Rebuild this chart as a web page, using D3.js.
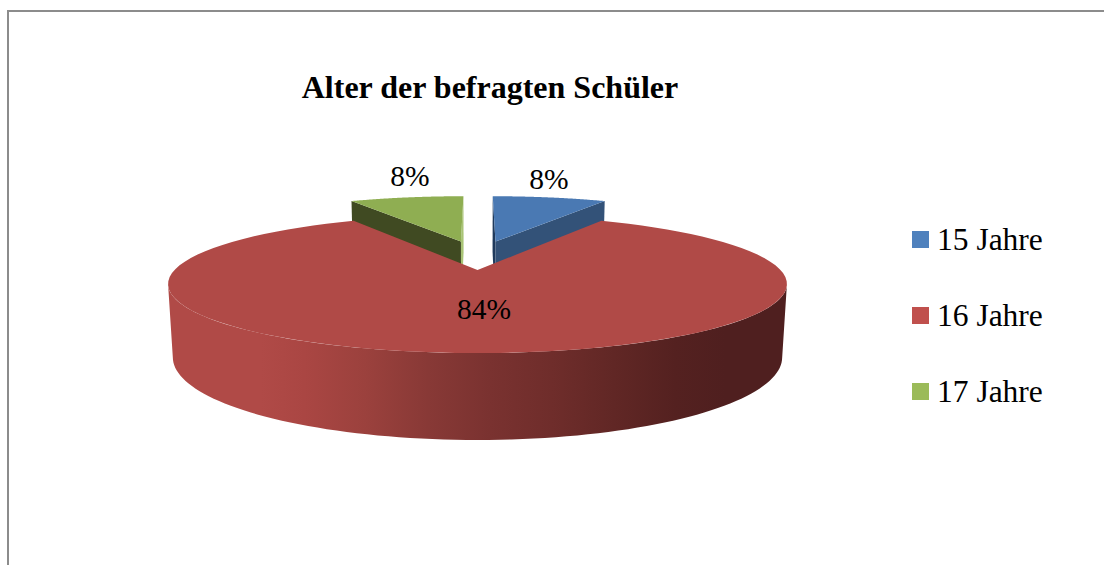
<!DOCTYPE html>
<html>
<head>
<meta charset="utf-8">
<script src="https://cdn.jsdelivr.net/npm/d3@7"></script>
<style>
  html, body { margin: 0; padding: 0; background: #fff; overflow: hidden; }
  text { font-family: "Liberation Serif", serif; fill: #000; }
</style>
</head>
<body>
<div class="chart"></div>
<script>
// data
var chartTitle = "Alter der befragten Schüler";
var categories = ["15 Jahre", "16 Jahre", "17 Jahre"];
var shares = [8, 84, 8];
var legendColors = ["#4f81bd", "#c0504d", "#9bbb59"];
var topColors = ["#4a79b3", "#b04a47", "#8fae52"];
var cutColors = ["#335278", "#7c2f2d", "#404a22"];
var sliverColors = ["#1f3a5c", "#7c2f2d", "#a9c476"];

var svgWidth = 1104;
var svgHeight = 565;

var svg = d3.select(".chart").append("svg")
  .attr("width", svgWidth)
  .attr("height", svgHeight)
  .style("display", "block");

// grey frame, only top and left show
svg.append("path")
  .attr("d", "M8,565V11H1104")
  .attr("fill", "none")
  .attr("stroke", "#8c8c8c")
  .attr("stroke-width", 2);

svg.append("text")
  .attr("x", 490)
  .attr("y", 98)
  .attr("text-anchor", "middle")
  .attr("font-size", 32)
  .attr("font-weight", "bold")
  .text(chartTitle);

// pie angles come from d3.pie, 3d look comes from project()
var slices = d3.pie().sort(null)(shares);

var cam = { xc: 477.5, yc: 270, R: 303, T: 66.2, H: 71.8, k: 0.203, m: 0.015 };

// ground coords X,Y (unit radius, Y to the back), Z = 1 is bottom of the disc
function project(X, Y, Z) {
  var s = 1 / (1 + cam.k * Y + cam.m * Z);
  return [cam.xc + cam.R * X * s, cam.yc + (cam.H * Z - cam.T * Y) * s];
}

// how far the small slices are pulled out, and their radius
var explode = { 0: [0.065, 0.47, 0.97], 1: [0, 0, 1], 2: [-0.06, 0.47, 0.97] };

function rimPoint(a, i, Z) {
  var off = explode[i];
  return project(Math.sin(a) * off[2] + off[0], Math.cos(a) * off[2] + off[1], Z);
}

function rimPoints(a0, a1, i, Z) {
  var n = 90;
  return d3.range(n + 1).map(function (j) {
    return rimPoint(a0 + (a1 - a0) * j / n, i, Z);
  });
}

function cutFace(angle, i) {
  var off = explode[i];
  return [
    project(off[0], off[1], 0),
    rimPoint(angle, i, 0),
    rimPoint(angle, i, 1),
    project(off[0], off[1], 1)
  ];
}

var line = d3.line().curve(d3.curveLinear);

// wall shading of the big slice
var grad = svg.append("defs").append("linearGradient")
  .attr("id", "wall")
  .attr("gradientUnits", "userSpaceOnUse")
  .attr("x1", 168).attr("x2", 787).attr("y1", 0).attr("y2", 0);

var wallStops = [
  [0, "#b04a47"], [0.15, "#b04a47"], [0.22, "#aa4643"], [0.32, "#9b413d"],
  [0.42, "#883936"], [0.52, "#7a3230"], [0.62, "#6f2d2b"], [0.72, "#612725"],
  [0.82, "#542120"], [0.9, "#4f1f1f"], [1, "#4f1f1f"]
];
grad.selectAll("stop").data(wallStops).enter().append("stop")
  .attr("offset", function (d) { return d[0]; })
  .attr("stop-color", function (d) { return d[1]; });

var pieGroup = svg.append("g");

// pulled out slices first, the big one covers their lower part
[0, 2].forEach(function (i) {
  var d = slices[i];
  var outer = i === 0 ? d.endAngle : d.startAngle;
  var inner = i === 0 ? d.startAngle : d.endAngle;
  pieGroup.append("path")
    .attr("d", line(cutFace(inner, i)) + "Z")
    .attr("fill", sliverColors[i]);
  pieGroup.append("path")
    .attr("d", line(cutFace(outer, i)) + "Z")
    .attr("fill", cutColors[i]);
  pieGroup.append("path")
    .attr("d", line([project(explode[i][0], explode[i][1], 0)].concat(rimPoints(d.startAngle, d.endAngle, i, 0))) + "Z")
    .attr("fill", topColors[i]);
});

// outer wall only between the two silhouette points of the disc
var big = slices[1];
var tangent = Math.asin(cam.k);
var wallFrom = Math.PI / 2 + tangent;
var wallTo = 3 * Math.PI / 2 - tangent;
pieGroup.append("path")
  .attr("d", line(rimPoints(wallFrom, wallTo, 1, 0).concat(rimPoints(wallFrom, wallTo, 1, 1).reverse())) + "Z")
  .attr("fill", "url(#wall)");
pieGroup.append("path")
  .attr("d", line([project(0, 0, 0)].concat(rimPoints(big.startAngle, big.endAngle, 1, 0))) + "Z")
  .attr("fill", topColors[1]);

// data labels
var labelSpots = [[549, 189], [484, 319], [410, 186]];
svg.selectAll(".pct").data(slices).enter().append("text")
  .attr("class", "pct")
  .attr("x", function (d, i) { return labelSpots[i][0]; })
  .attr("y", function (d, i) { return labelSpots[i][1]; })
  .attr("text-anchor", "middle")
  .attr("font-size", 29.5)
  .text(function (d) { return d.data + "%"; });

// legend
var legendY = d3.scalePoint().domain(categories).range([240, 392]);

var legend = svg.selectAll(".legend").data(categories).enter().append("g")
  .attr("class", "legend")
  .attr("transform", function (d) { return "translate(912," + legendY(d) + ")"; });

legend.append("rect")
  .attr("y", -9)
  .attr("width", 17)
  .attr("height", 17)
  .attr("fill", function (d, i) { return legendColors[i]; });

legend.append("text")
  .attr("x", 25)
  .attr("y", 10)
  .attr("font-size", 31.5)
  .text(function (d) { return d; });
</script>
</body>
</html>
